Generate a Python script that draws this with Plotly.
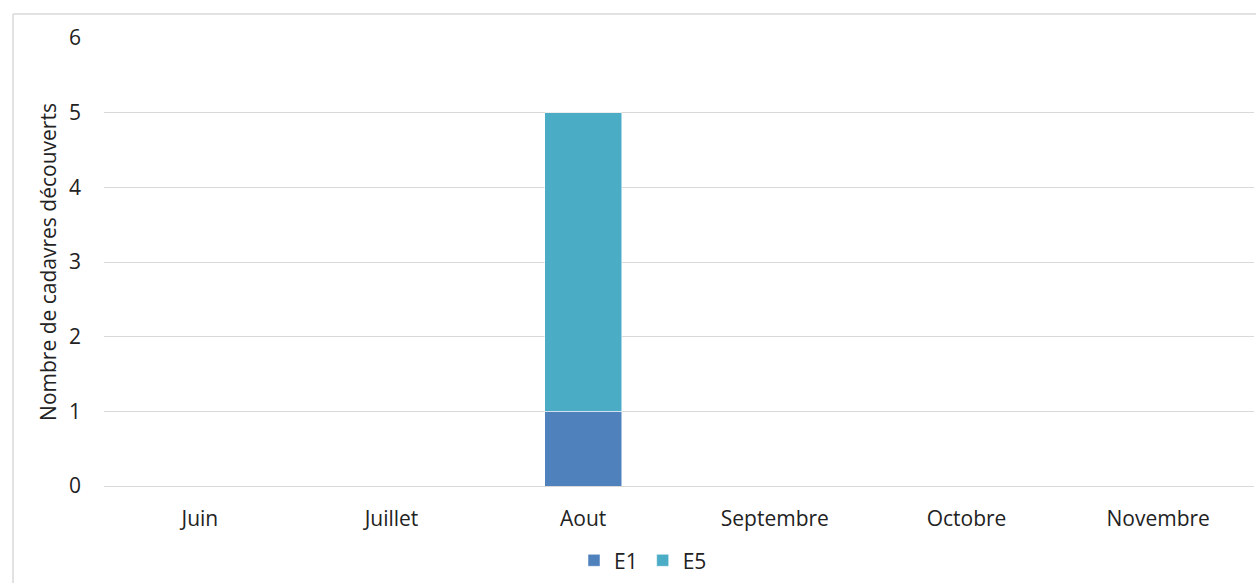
import plotly.graph_objects as go

months = ["Juin", "Juillet", "Aout", "Septembre", "Octobre", "Novembre"]
e1 = [0, 0, 1, 0, 0, 0]
e5 = [0, 0, 4, 0, 0, 0]
yticks = [0, 1, 2, 3, 4, 5, 6]

W, H = 1256, 583
L, R, T, B = 104, 2, 38, 95
pw, ph = W - L - R, H - T - B
FS = 21

fig = go.Figure()
fig.add_trace(go.Bar(name="E1", x=months, y=e1, marker=dict(color="#4F81BD", line=dict(color="white", width=0.5))))
fig.add_trace(go.Bar(name="E5", x=months, y=e5, marker=dict(color="#4BACC6", line=dict(color="white", width=0.5))))

def px2x(p):
    return (p - L) / pw

def py2y(p):
    return (H - B - p) / ph

fig.update_layout(
    barmode="stack",
    bargap=0.6,
    width=W, height=H,
    margin=dict(l=L, r=R, t=T, b=B),
    paper_bgcolor="white",
    plot_bgcolor="white",
    font=dict(family="Open Sans", size=FS, color="#222222"),
    showlegend=True,
    legend=dict(orientation="h", x=px2x(643), xanchor="center", y=py2y(563), yanchor="middle",
                font=dict(size=FS), itemwidth=30, traceorder="normal"),
    xaxis=dict(showgrid=False, showline=False, zeroline=False, ticks="", ticklabelstandoff=18,
               tickfont=dict(size=FS)),
    yaxis=dict(range=[0, 6], tickvals=yticks, showgrid=True, gridcolor="#D9D9D9", gridwidth=1,
               zeroline=True, zerolinecolor="#D9D9D9", zerolinewidth=1, showline=False,
               ticks="", ticklabelstandoff=22, tickfont=dict(size=FS),
               title=dict(text="Nombre de cadavres découverts", font=dict(size=FS), standoff=6)),
    shapes=[
        dict(type="line", xref="paper", yref="paper", x0=px2x(13), x1=px2x(1260), y0=py2y(14), y1=py2y(14),
             line=dict(color="#D9D9D9", width=1.5)),
        dict(type="line", xref="paper", yref="paper", x0=px2x(13), x1=px2x(13), y0=py2y(14), y1=py2y(590),
             line=dict(color="#D9D9D9", width=1.5)),
    ],
)

fig.write_html("out.html", config={"displayModeBar": False},
               post_script="document.body.style.margin='0';document.body.style.padding='0';")
